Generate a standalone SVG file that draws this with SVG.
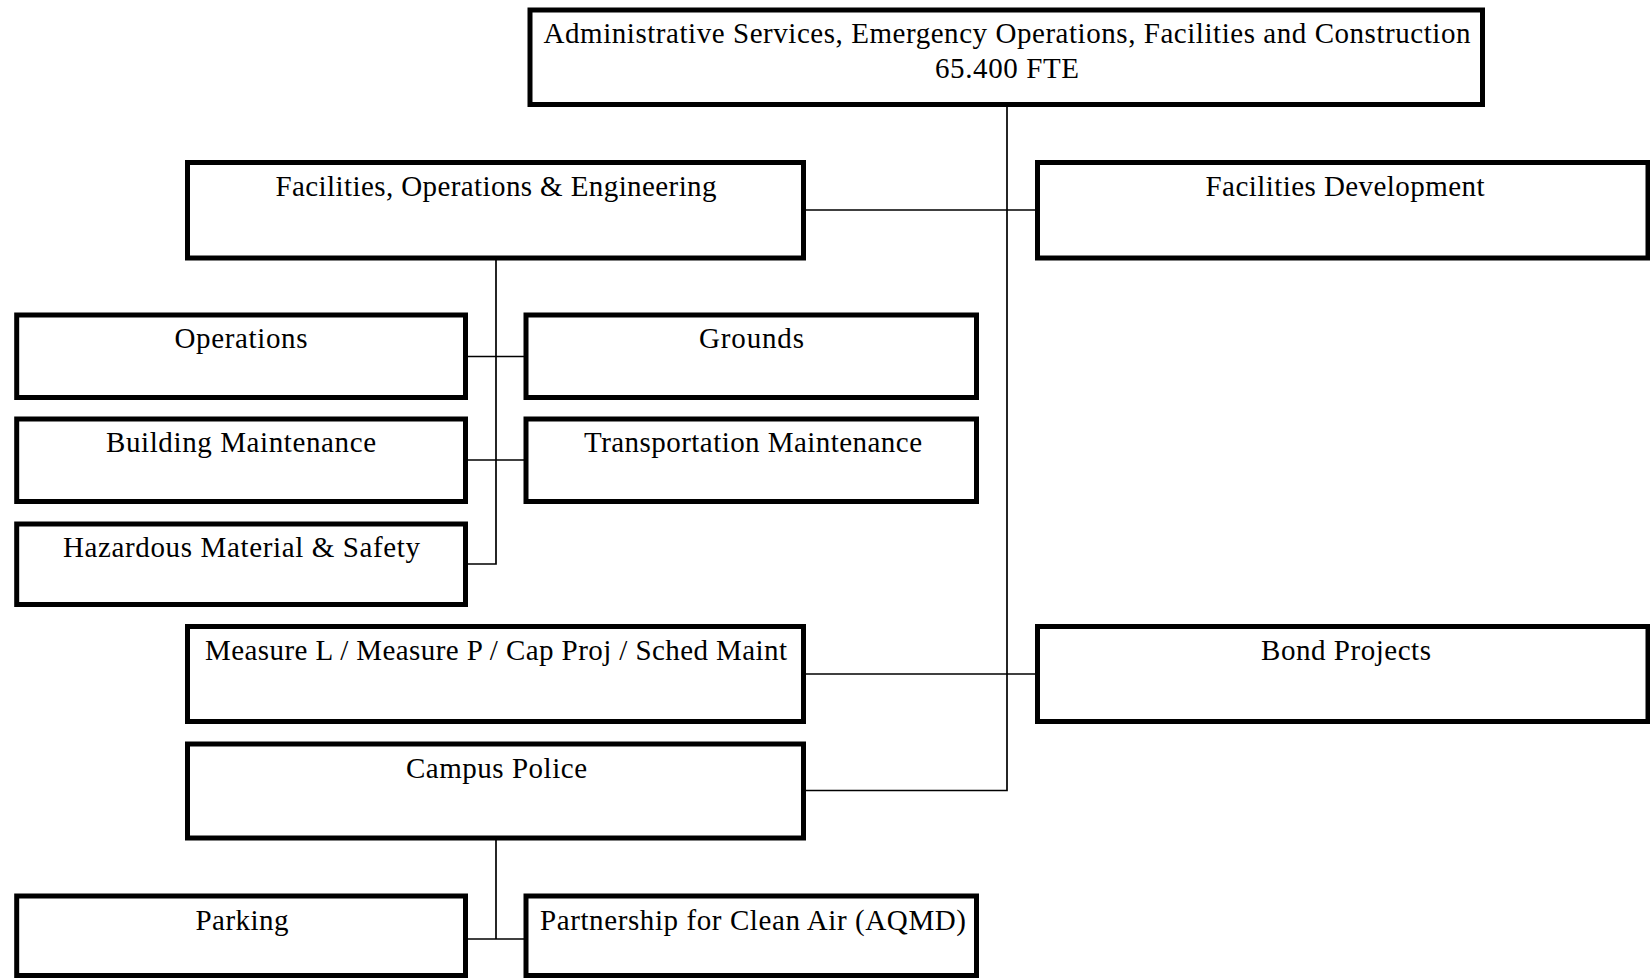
<svg xmlns="http://www.w3.org/2000/svg" width="1650" height="979" viewBox="0 0 1650 979">
<style>
.box{fill:#fff;stroke:#000;stroke-width:5}
.lbl{font-family:"Liberation Serif","Times New Roman",serif;font-size:29px;fill:#000;text-anchor:middle}
.con{fill:none;stroke:#000;stroke-width:1.7}
</style>
<rect x="0" y="0" width="1650" height="979" fill="#fff"/>
<g id="connectors">
<path class="con" d="M1007,104.5 V790.5 H803.5"/>
<path class="con" d="M803.5,210 H1037.5"/>
<path class="con" d="M803.5,674 H1037.5"/>
<path class="con" d="M496,258 V564 H465.5"/>
<path class="con" d="M465.5,356.5 H526"/>
<path class="con" d="M465.5,460 H526"/>
<path class="con" d="M496,838 V939"/>
<path class="con" d="M465.5,939 H526"/>
</g>
<g id="node-admin">
<rect class="box" x="530" y="10" width="952.5" height="94.5"/>
<text class="lbl" x="1007" y="43" textLength="927">Administrative Services, Emergency Operations, Facilities and Construction</text>
<text class="lbl" x="1007" y="78" textLength="144">65.400 FTE</text>
</g>
<g id="node-foe">
<rect class="box" x="187.5" y="162.5" width="616" height="95.5"/>
<text class="lbl" x="496" y="196" textLength="441">Facilities, Operations &amp; Engineering</text>
</g>
<g id="node-fd">
<rect class="box" x="1037.5" y="162.5" width="610.5" height="95.5"/>
<text class="lbl" x="1345" y="196" textLength="279">Facilities Development</text>
</g>
<g id="node-operations">
<rect class="box" x="16.7" y="315" width="448.8" height="82.5"/>
<text class="lbl" x="241" y="348" textLength="133">Operations</text>
</g>
<g id="node-grounds">
<rect class="box" x="526" y="315" width="450.5" height="82.5"/>
<text class="lbl" x="751.5" y="348" textLength="105">Grounds</text>
</g>
<g id="node-building">
<rect class="box" x="16.7" y="419" width="448.8" height="82.5"/>
<text class="lbl" x="241" y="452" textLength="270">Building Maintenance</text>
</g>
<g id="node-transport">
<rect class="box" x="526" y="419" width="450.5" height="82.5"/>
<text class="lbl" x="753" y="452" textLength="338">Transportation Maintenance</text>
</g>
<g id="node-hazmat">
<rect class="box" x="16.7" y="524" width="448.8" height="80.5"/>
<text class="lbl" x="241.5" y="557" textLength="357">Hazardous Material &amp; Safety</text>
</g>
<g id="node-measure">
<rect class="box" x="187.5" y="626.5" width="616" height="95"/>
<text class="lbl" x="496" y="660" textLength="582">Measure L / Measure P / Cap Proj / Sched Maint</text>
</g>
<g id="node-bond">
<rect class="box" x="1037.5" y="626.5" width="610.5" height="95"/>
<text class="lbl" x="1346" y="660" textLength="170">Bond Projects</text>
</g>
<g id="node-police">
<rect class="box" x="187.5" y="744" width="616" height="94"/>
<text class="lbl" x="496.5" y="777.5" textLength="181">Campus Police</text>
</g>
<g id="node-parking">
<rect class="box" x="16.7" y="896" width="448.8" height="79.5"/>
<text class="lbl" x="242" y="930" textLength="93">Parking</text>
</g>
<g id="node-aqmd">
<rect class="box" x="526" y="896" width="450.5" height="79.5"/>
<text class="lbl" x="753" y="930" textLength="426">Partnership for Clean Air (AQMD)</text>
</g>
</svg>
